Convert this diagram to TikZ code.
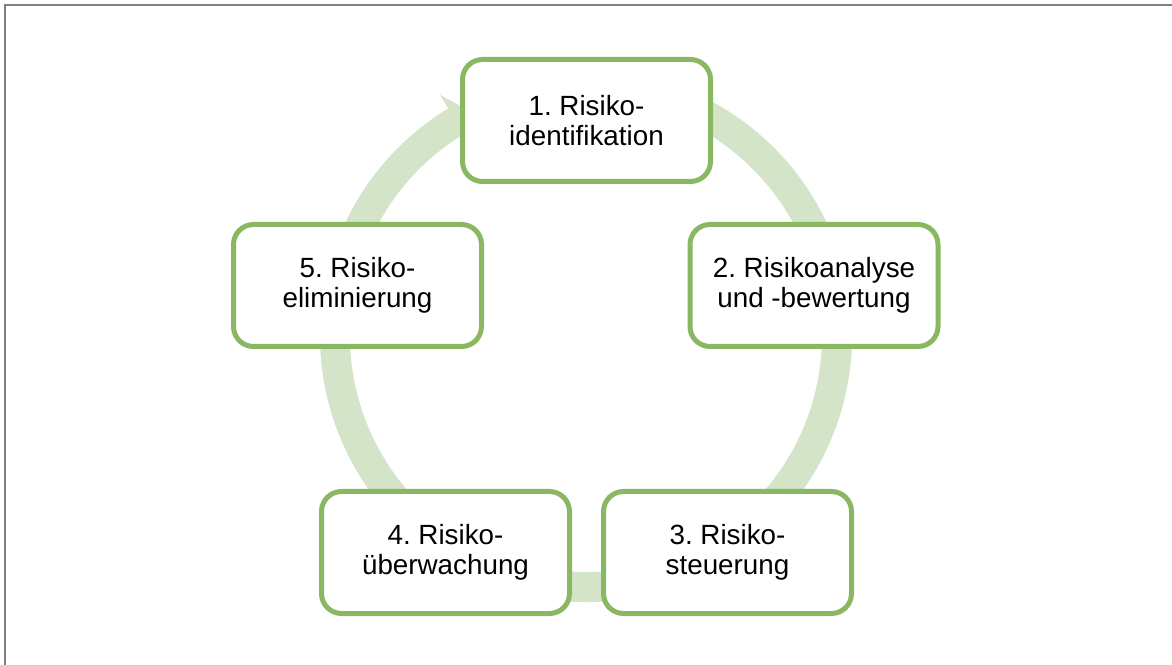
\documentclass[tikz,border=0pt]{standalone}
\usepackage{fontspec}
\setmainfont{Liberation Sans}
\frenchspacing
\definecolor{boxgreen}{HTML}{8AB862}
\definecolor{ringgreen}{HTML}{D4E4C9}
\definecolor{framegray}{HTML}{7F7F7F}
\begin{document}
\begin{tikzpicture}[x=1pt, y=1pt,
  stepbox/.style={draw=boxgreen, line width=5pt, fill=white, rounded corners=20pt,
    minimum width=248pt, minimum height=122pt, align=center, inner sep=0pt,
    font=\fontsize{27.8pt}{29.5pt}\selectfont, text=black},
  ring/.style={fill=ringgreen, draw=none},
  frame/.style={draw=framegray, line width=1.6pt}]
\useasboundingbox (0,0) rectangle (1172,664);

% outer frame (top and left edges)
\draw[frame] (4.8,-10) -- (4.8,659.2) -- (1190,659.2);

% circular arrow running clockwise behind the steps
\begin{scope}[shift={(586,328)}]
  \fill[ring] (70:266) arc[start angle=70, end angle=-238.8, radius=266]
    -- (121.2:282) -- (117:251) -- (121.2:220) -- (121.2:236)
    arc[start angle=-238.8, end angle=70, radius=236] -- cycle;
\end{scope}

% process steps
\node[stepbox] (s1) at (586.5,543.5) {1. Risiko-\\identifikation};
\node[stepbox] (s2) at (814,378.5) {2. Risikoanalyse\\und -bewertung};
\node[stepbox] (s3) at (727.5,111.5) {3. Risiko-\\steuerung};
\node[stepbox] (s4) at (445.5,111.5) {4. Risiko-\\überwachung};
\node[stepbox] (s5) at (357.5,378.5) {5. Risiko-\\eliminierung};
\end{tikzpicture}
\end{document}
